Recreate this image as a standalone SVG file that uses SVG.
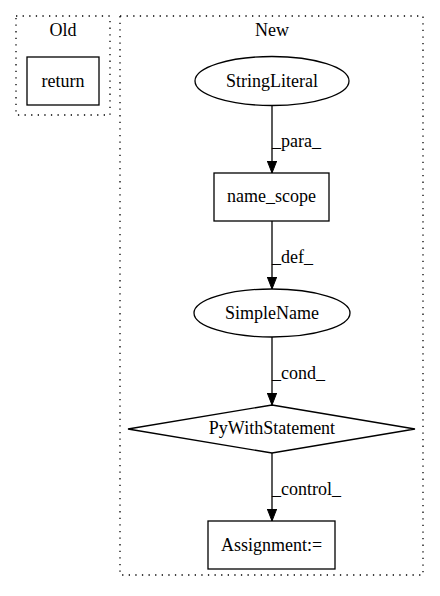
<svg xmlns="http://www.w3.org/2000/svg" width="440" height="596" viewBox="0 0 440 596">
<defs>
<marker id="ah" markerWidth="12" markerHeight="14" refX="12" refY="7" orient="auto" markerUnits="userSpaceOnUse">
<path d="M0,2.3 L12,7 L0,11.7 Z" fill="#000" stroke="#000"/>
</marker>
</defs>
<style>
text{font-family:"Liberation Serif","Times New Roman",serif;font-size:18px;fill:#000}
.c{text-anchor:middle}
.cl{fill:none;stroke:#000;stroke-dasharray:1.3,5.3;stroke-width:1.3}
.n{fill:#fff;stroke:#000;stroke-width:1.3}
.e{stroke:#000;stroke-width:1.3;fill:none}
</style>
<rect width="440" height="596" fill="#fff"/>
<g id="cluster_old">
<rect class="cl" x="16" y="16" width="94" height="99"/>
<text class="c" x="63" y="36">Old</text>
</g>
<g id="cluster_new">
<rect class="cl" x="120" y="16" width="303" height="559"/>
<text class="c" x="272" y="36">New</text>
</g>
<g id="return">
<rect class="n" x="27" y="57" width="72" height="48"/>
<text class="c" x="63" y="87">return</text>
</g>
<g id="StringLiteral">
<ellipse class="n" cx="272" cy="81" rx="77" ry="24.5"/>
<text class="c" x="272" y="87">StringLiteral</text>
</g>
<g id="name_scope">
<rect class="n" x="214" y="173" width="115" height="48"/>
<text class="c" x="271.5" y="202">name_scope</text>
</g>
<g id="SimpleName">
<ellipse class="n" cx="272" cy="313" rx="78" ry="24"/>
<text class="c" x="272" y="319">SimpleName</text>
</g>
<g id="PyWithStatement">
<polygon class="n" points="272,405 415,429 272,453 128,429"/>
<text class="c" x="272" y="434">PyWithStatement</text>
</g>
<g id="Assignment">
<rect class="n" x="208" y="521" width="127" height="48"/>
<text class="c" x="271.5" y="551">Assignment:=</text>
</g>
<g id="edges">
<line class="e" x1="272" y1="106" x2="272" y2="173" marker-end="url(#ah)"/>
<text x="272" y="147">_para_</text>
<line class="e" x1="272" y1="221" x2="272" y2="289" marker-end="url(#ah)"/>
<text x="272" y="263">_def_</text>
<line class="e" x1="272" y1="337" x2="272" y2="405" marker-end="url(#ah)"/>
<text x="272" y="379">_cond_</text>
<line class="e" x1="272" y1="453" x2="272" y2="521" marker-end="url(#ah)"/>
<text x="272" y="495">_control_</text>
</g>
</svg>
